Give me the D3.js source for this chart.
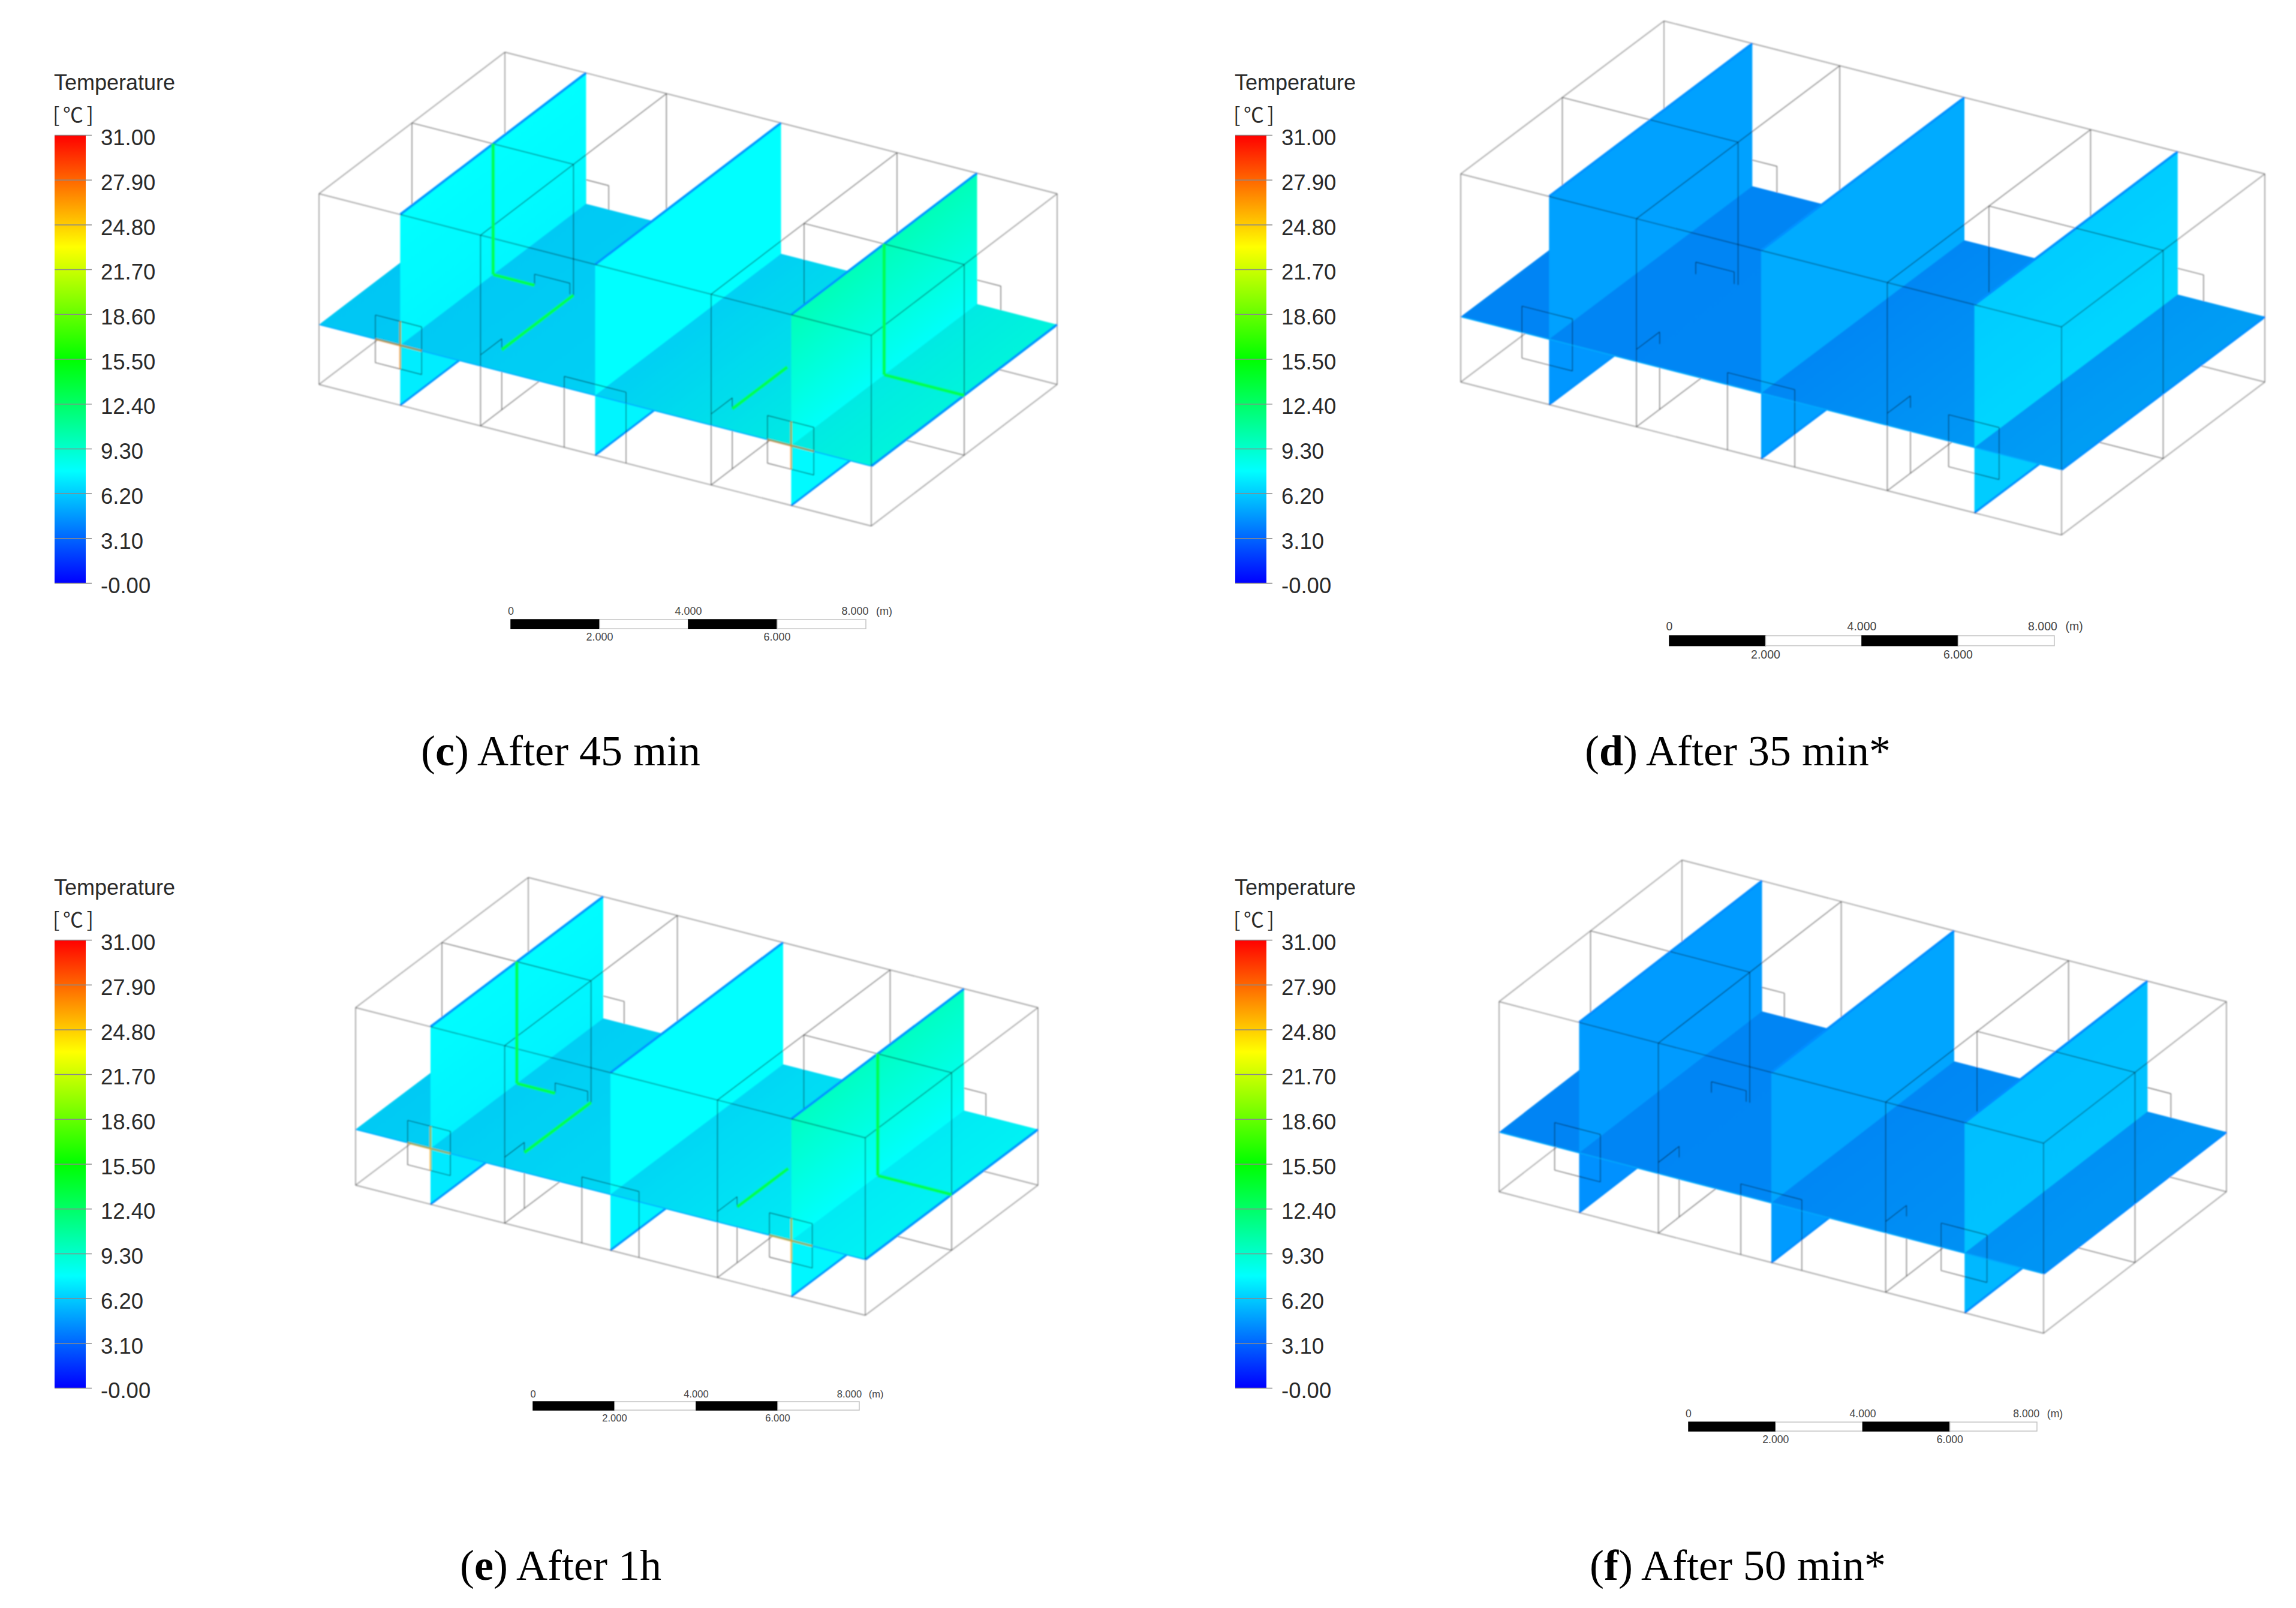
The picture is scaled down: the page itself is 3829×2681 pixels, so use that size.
<!DOCTYPE html>
<html>
<head>
<meta charset="utf-8">
<script src="https://cdn.jsdelivr.net/npm/d3@7"></script>
<style>
  html, body { margin: 0; padding: 0; background: #fff; }
  svg { display: block; }
</style>
</head>
<body>
<div id="chart"></div>
<script>
var width = 3829
var height = 2681

// colour legend
const tempTicks = [31, 27.9, 24.8, 21.7, 18.6, 15.5, 12.4, 9.3, 6.2, 3.1, 0]
const tempLabels = ["31.00", "27.90", "24.80", "21.70", "18.60", "15.50", "12.40", "9.30", "6.20", "3.10", "-0.00"]
const paletteTemps = [0, 7.75, 15.5, 23.25, 31]
const paletteColors = ["#0000ff", "#00ffff", "#00ff00", "#ffff00", "#ff0000"]

// panels
const panelIds = ["c", "d", "e", "f"]
const captionTexts = [" After 45 min", " After 35 min*", " After 1h", " After 50 min*"]

// temperatures, in panel order
const planeTemps = [[6.3, 6.6, 8.5], [4.2, 4.3, 5.0], [6.4, 6.8, 7.7], [4.2, 4.3, 4.7]]
const wallBottomTemps = [[7.5, 7.75, 7.9], [4.9, 5.2, 6.5], [7.4, 7.75, 7.8], [4.7, 5.0, 5.9]]
const wallTopTemps = [[7.75, 7.75, 9.9], [4.9, 5.2, 6.2], [7.7, 7.75, 9.6], [4.7, 5.0, 5.8]]
const edgeTemps = [4.6, 4.4, 4.6, 4.3]
const seamTemps = [13, null, 13, null]
const windowSeamTemps = [27, null, 26, null]

// building model, fractions of the box: u long side, v depth, w height
const sliceU = [0.147, 0.5, 0.855]
const planeW = 0.314
const roomU = [0.2925, 0.71]
const midV = 0.5
const frontWindows = [[0.102, 0.186], [0.812, 0.896]]
const backWindows = [[0.146, 0.188], [0.854, 0.898]]
const frontDoors = [[0.444, 0.556]]
const innerDoors = [[0.222, 0.286]]
const windowW = [0.19, 0.44]
const doorTopW = 0.372
const sideDoorV = 0.114
const seamSegments = [
  [[0.147, 0.5, 1], [0.147, 0.5, planeW]],
  [[0.147, 0.5, planeW], [0.222, 0.5, planeW]],
  [[0.2925, 0.114, planeW], [0.2925, 0.5, planeW]],
  [[0.855, 0.5, 1], [0.855, 0.5, planeW]],
  [[0.855, 0.5, planeW], [1, 0.5, planeW]],
  [[0.71, 0.114, planeW], [0.71, 0.41, planeW]]
]

// scale bar
const scaleTicksTop = [0, 4, 8]
const scaleTicksBottom = [2, 6]
const scaleBlocks = [[0, 2], [2, 4], [4, 6], [6, 8]]

// layout of each panel
const boxLeft = [[532, 323], [2436, 290], [593, 1680], [2500, 1670]]
const spanLong = [[921, 236], [1002, 255], [850, 217], [908, 236]]
const spanDepth = [[310, -236], [339, -255], [288, -217], [305, -236]]
const boxHeight = [318, 347, 296, 317]
const legendX = [91, 2060, 91, 2060]
const legendTop = [225, 225, 1567, 1567]
const scaleBarX = [[852, 1444], [2784, 3426], [889, 1433], [2816, 3397]]
const scaleBarY = [1033, 1060, 2337, 2371]
const captionX = [935, 2898, 935, 2898]
const captionY = [1276, 1276, 2634, 2634]

const tempColor = d3.scaleLinear().domain(paletteTemps).range(paletteColors)

const svg = d3.select("#chart").append("svg")
  .attr("width", width)
  .attr("height", height)
  .attr("viewBox", [0, 0, width, height])
  .style("background", "#fff")

const defs = svg.append("defs")
defs.append("filter").attr("id", "soft")
  .attr("filterUnits", "userSpaceOnUse")
  .attr("x", 0).attr("y", 0).attr("width", width).attr("height", height)
  .append("feGaussianBlur").attr("stdDeviation", 0.9)

// every wire line of the model as [from, to]
function modelLines() {
  var outer = []
  var inner = []
  var open = []
  function rect(list, a, b, c, d, closed) {
    list.push([a, b], [b, c], [c, d])
    if (closed) list.push([d, a])
  }
  ;[0, 1].forEach(w => rect(outer, [0, 0, w], [1, 0, w], [1, 1, w], [0, 1, w], true))
  ;[[0, 0], [1, 0], [1, 1], [0, 1]].forEach(c => outer.push([[c[0], c[1], 0], [c[0], c[1], 1]]))

  roomU.forEach(u => {
    ;[0, 1].forEach(w => inner.push([[u, 0, w], [u, 1, w]]))
    ;[0, midV, 1].forEach(v => inner.push([[u, v, 0], [u, v, 1]]))
    rect(open, [u, 0, doorTopW], [u, sideDoorV, doorTopW], [u, sideDoorV, 0], [u, sideDoorV, 0])
  })
  ;[[0, roomU[0]], [roomU[1], 1]].forEach(r => {
    ;[0, 1].forEach(w => inner.push([[r[0], midV, w], [r[1], midV, w]]))
  })
  ;[0, 1].forEach(u => inner.push([[u, midV, 0], [u, midV, 1]]))

  frontWindows.forEach(d => rect(open, [d[0], 0, windowW[0]], [d[0], 0, windowW[1]], [d[1], 0, windowW[1]], [d[1], 0, windowW[0]], true))
  backWindows.forEach(d => rect(open, [d[0], 1, windowW[0]], [d[0], 1, windowW[1]], [d[1], 1, windowW[1]], [d[1], 1, windowW[0]], true))
  frontDoors.forEach(d => rect(open, [d[0], 0, 0], [d[0], 0, doorTopW], [d[1], 0, doorTopW], [d[1], 0, 0]))
  innerDoors.forEach(d => rect(open, [d[0], midV, 0], [d[0], midV, doorTopW], [d[1], midV, doorTopW], [d[1], midV, 0]))

  return [
    ...outer.map(s => ({ seg: s, kind: "outer" })),
    ...inner.map(s => ({ seg: s, kind: "inner" })),
    ...open.map(s => ({ seg: s, kind: "open" }))
  ]
}

// cut a line where it crosses the plane or a slice, so that it can be painted in depth order
function splitLine(line) {
  var a = line.seg[0], b = line.seg[1]
  var cuts = [0, 1]
  if ((a[2] - planeW) * (b[2] - planeW) < 0) cuts.push((planeW - a[2]) / (b[2] - a[2]))
  sliceU.forEach(u => {
    if ((a[0] - u) * (b[0] - u) < 0) cuts.push((u - a[0]) / (b[0] - a[0]))
  })
  cuts.sort(d3.ascending)
  var at = t => [0, 1, 2].map(i => a[i] + (b[i] - a[i]) * t)
  return d3.pairs(cuts).map(p => {
    var mid = at((p[0] + p[1]) / 2)
    var layer = mid[2] < planeW ? -1 : sliceU.filter(u => u < mid[0]).length
    return { seg: [at(p[0]), at(p[1])], kind: line.kind, layer: layer }
  })
}

const wirePieces = modelLines().flatMap(splitLine)

const wireStroke = { outer: "#a8a8a8", inner: "#8c8c8c", open: "#7c7c7c" }
const wireWidth = { outer: 1.9, inner: 1.6, open: 1.4 }

function drawPanel(i) {
  var id = panelIds[i]
  var g = svg.append("g").attr("class", "panel-" + id)

  // projection of the model
  var xU = d3.scaleLinear().domain([0, 1]).range([0, spanLong[i][0]])
  var yU = d3.scaleLinear().domain([0, 1]).range([0, spanLong[i][1]])
  var xV = d3.scaleLinear().domain([0, 1]).range([0, spanDepth[i][0]])
  var yV = d3.scaleLinear().domain([0, 1]).range([0, spanDepth[i][1]])
  var yW = d3.scaleLinear().domain([0, 1]).range([boxHeight[i], 0])
  var project = p => [boxLeft[i][0] + xU(p[0]) + xV(p[1]), boxLeft[i][1] + yU(p[0]) + yV(p[1]) + yW(p[2])]
  var polygon = pts => "M" + pts.map(p => project(p).join(",")).join("L") + "Z"

  // gradient whose colour lines run along the isoDir of the screen
  function gradient(name, from, to, isoDir, temps) {
    var p0 = project(from), p1 = project(to)
    var n = [-isoDir[1], isoDir[0]]
    var len = Math.hypot(n[0], n[1])
    n = [n[0] / len, n[1] / len]
    var d = (p1[0] - p0[0]) * n[0] + (p1[1] - p0[1]) * n[1]
    var grad = defs.append("linearGradient").attr("id", name)
      .attr("gradientUnits", "userSpaceOnUse")
      .attr("x1", p0[0]).attr("y1", p0[1])
      .attr("x2", p0[0] + n[0] * d).attr("y2", p0[1] + n[1] * d)
    grad.selectAll("stop").data(temps).enter().append("stop")
      .attr("offset", (d, k) => k / (temps.length - 1))
      .attr("stop-color", d => d3.rgb(tempColor(d)).darker(name.indexOf("plane") == 0 ? 0.12 : 0).formatHex())
    return "url(#" + name + ")"
  }

  var model = g.append("g").attr("filter", "url(#soft)")

  function drawWire(layer) {
    model.append("g").selectAll("line")
      .data(wirePieces.filter(d => d.layer == layer))
      .enter().append("line")
      .attr("x1", d => project(d.seg[0])[0])
      .attr("y1", d => project(d.seg[0])[1])
      .attr("x2", d => project(d.seg[1])[0])
      .attr("y2", d => project(d.seg[1])[1])
      .attr("stroke", d => wireStroke[d.kind])
      .attr("stroke-width", d => wireWidth[d.kind])
      .style("mix-blend-mode", "multiply")
  }

  function drawEdge(a, b, temp, w) {
    var p = project(a), q = project(b)
    model.append("line")
      .attr("x1", p[0]).attr("y1", p[1]).attr("x2", q[0]).attr("y2", q[1])
      .attr("stroke", tempColor(temp)).attr("stroke-width", w)
  }

  // parts of the slices under the plane
  sliceU.forEach((u, k) => {
    model.append("path")
      .attr("d", polygon([[u, 0, 0], [u, 1, 0], [u, 1, planeW], [u, 0, planeW]]))
      .attr("fill", tempColor(wallBottomTemps[i][k] - 0.3))
    drawEdge([u, 0, 0], [u, 1, 0], edgeTemps[i], 3.5)
  })
  drawWire(-1)

  // horizontal plane
  model.append("path")
    .attr("d", polygon([[0, 0, planeW], [1, 0, planeW], [1, 1, planeW], [0, 1, planeW]]))
    .attr("fill", gradient("plane-" + id, [0, 0.5, planeW], [1, 0.5, planeW], spanDepth[i], planeTemps[i]))
  drawEdge([0, 0, planeW], [1, 0, planeW], edgeTemps[i] + 0.8, 2)
  drawEdge([1, 0, planeW], [1, 1, planeW], edgeTemps[i], 4)

  // parts of the slices over the plane, back to front
  drawWire(0)
  sliceU.forEach((u, k) => {
    model.append("path")
      .attr("d", polygon([[u, 0, planeW], [u, 1, planeW], [u, 1, 1], [u, 0, 1]]))
      .attr("fill", gradient("wall-" + id + k, [u, 0, planeW], [u, 0, 1], spanDepth[i], [wallBottomTemps[i][k], wallTopTemps[i][k]]))
    drawEdge([u, 0, 1], [u, 1, 1], edgeTemps[i], 4)
    drawWire(k + 1)
  })

  // warm seams where partitions meet the slices
  if (seamTemps[i] != null) {
    model.append("g").selectAll("line").data(seamSegments).enter().append("line")
      .attr("x1", d => project(d[0])[0])
      .attr("y1", d => project(d[0])[1])
      .attr("x2", d => project(d[1])[0])
      .attr("y2", d => project(d[1])[1])
      .attr("stroke", tempColor(seamTemps[i]))
      .attr("stroke-width", 5.5)
    var brown = []
    frontWindows.forEach((d, k) => {
      brown.push([[d[0], 0, planeW], [d[1], 0, planeW]])
      var u = sliceU[k == 0 ? 0 : 2]
      brown.push([[u, 0, windowW[1]], [u, 0, windowW[0]]])
    })
    model.append("g").selectAll("line").data(brown).enter().append("line")
      .attr("x1", d => project(d[0])[0])
      .attr("y1", d => project(d[0])[1])
      .attr("x2", d => project(d[1])[0])
      .attr("y2", d => project(d[1])[1])
      .attr("stroke", tempColor(windowSeamTemps[i]))
      .attr("stroke-opacity", 0.6)
      .attr("stroke-width", 3.5)
  }

  drawLegend(g, i)
  drawScaleBar(g, i)

  var cap = g.append("text")
    .attr("x", captionX[i]).attr("y", captionY[i])
    .attr("text-anchor", "middle")
    .attr("font-family", "'Liberation Serif', serif")
    .attr("font-size", 72)
    .attr("fill", "#000")
    .attr("xml:space", "preserve")
  cap.append("tspan").text("(")
  cap.append("tspan").attr("font-weight", "bold").text(id)
  cap.append("tspan").text(")" + captionTexts[i])
}

function drawLegend(g, i) {
  var x = legendX[i], top = legendTop[i]
  var barW = 52, barH = 747
  var y = d3.scaleLinear().domain([0, 31]).range([top + barH, top])
  var name = "bar-" + panelIds[i]
  var grad = defs.append("linearGradient").attr("id", name)
    .attr("x1", 0).attr("y1", 1).attr("x2", 0).attr("y2", 0)
  grad.selectAll("stop").data(paletteTemps).enter().append("stop")
    .attr("offset", d => d / 31)
    .attr("stop-color", d => tempColor(d))
  g.append("rect")
    .attr("x", x).attr("y", top).attr("width", barW).attr("height", barH)
    .attr("fill", "url(#" + name + ")")

  var axis = d3.axisRight(y)
    .tickValues(tempTicks)
    .tickSize(barW + 10)
    .tickPadding(15)
    .tickFormat((d, k) => tempLabels[k])
  var ag = g.append("g").attr("transform", "translate(" + x + ",0)").call(axis)
  ag.select(".domain").remove()
  ag.selectAll(".tick line").attr("stroke", "#8a8a8a").attr("stroke-width", 1.5)
  ag.selectAll(".tick text")
    .attr("font-family", "'Liberation Sans', Arial, sans-serif")
    .attr("font-size", 36.5)
    .attr("fill", "#2a2a2a")
    .attr("dy", "0.46em")

  g.append("text").attr("x", x - 1).attr("y", top - 75)
    .attr("font-family", "'Liberation Sans', Arial, sans-serif")
    .attr("font-size", 36).attr("fill", "#2a2a2a")
    .text("Temperature")
  g.append("text").attr("x", x - 3).attr("y", top - 21)
    .attr("font-family", "'Noto Sans CJK SC', sans-serif")
    .attr("font-size", 34).attr("fill", "#2a2a2a")
    .attr("textLength", 68)
    .text("[℃]")
}

function drawScaleBar(g, i) {
  var x = d3.scaleLinear().domain([0, 8]).range(scaleBarX[i])
  var top = scaleBarY[i]
  var fs = (scaleBarX[i][1] - scaleBarX[i][0]) * 18 / 592
  var barH = fs * 0.85
  g.append("g").selectAll("rect").data(scaleBlocks).enter().append("rect")
    .attr("x", d => x(d[0]))
    .attr("y", top)
    .attr("width", d => x(d[1]) - x(d[0]))
    .attr("height", barH)
    .attr("fill", (d, k) => k % 2 == 0 ? "#000" : "#fff")
    .attr("stroke", (d, k) => k % 2 == 0 ? "#000" : "#c4c4c4")
    .attr("stroke-width", 1.5)
  var font = "'Liberation Sans', Arial, sans-serif"
  g.append("g").selectAll("text").data(scaleTicksTop).enter().append("text")
    .attr("x", d => x(d) - (d == 8 ? fs : 0)).attr("y", top - fs * 0.45)
    .attr("text-anchor", "middle")
    .attr("font-family", font).attr("font-size", fs).attr("fill", "#444")
    .text(d => d == 0 ? "0" : d3.format(".3f")(d))
  g.append("g").selectAll("text").data(scaleTicksBottom).enter().append("text")
    .attr("x", d => x(d)).attr("y", top + barH + fs * 1.12)
    .attr("text-anchor", "middle")
    .attr("font-family", font).attr("font-size", fs).attr("fill", "#444")
    .text(d => d3.format(".3f")(d))
  g.append("text")
    .attr("x", x(8) + fs * 0.95).attr("y", top - fs * 0.45)
    .attr("font-family", font).attr("font-size", fs).attr("fill", "#444")
    .text("(m)")
}

panelIds.forEach((id, i) => drawPanel(i))
</script>
</body>
</html>
